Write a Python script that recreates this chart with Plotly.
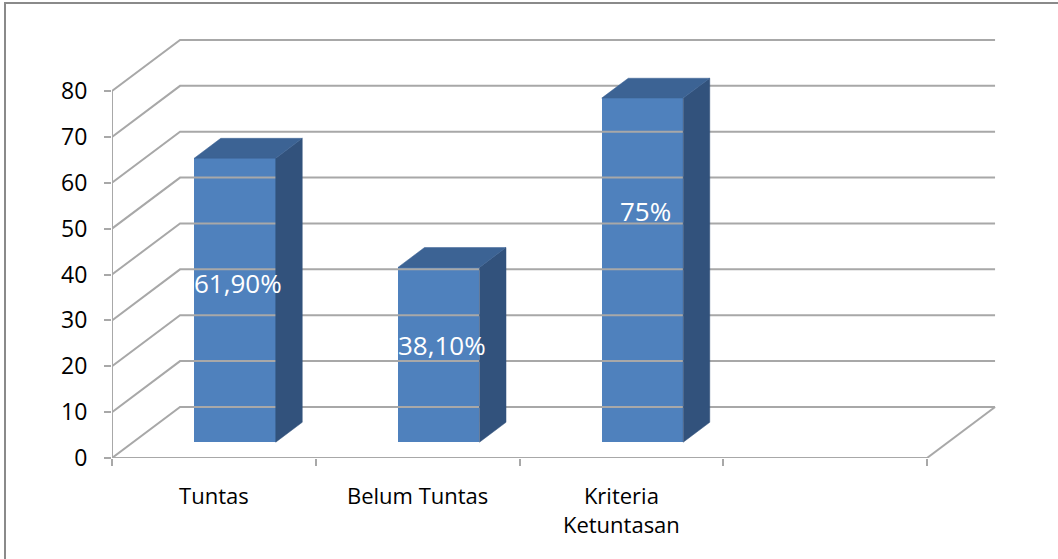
import plotly.graph_objects as go

categories = ["Tuntas", "Belum Tuntas", "Kriteria<br>Ketuntasan", ""]
values = [61.9, 38.1, 75]
value_labels = ["61,90%", "38,10%", "75%"]
y_ticks = [0, 10, 20, 30, 40, 50, 60, 70, 80]

# style / geometry
label_y = [34.7, 21.1, 50.4]      # label heights above bar base (front-plane units)
DX, DY = 0.334, 11.12              # depth offset of back wall (data units)
F0, F1 = 0.31, 0.70                # bar depth position (fraction of depth)
BW = 0.40                          # bar width
FRONT, SIDE, TOP = "#4F81BD", "#32527C", "#3C6394"
GRID = "#A8A8A8"
FONT = "'Open Sans', sans-serif"

ML, MR, MT, MB = 112, 50, 36, 101
W, H = 1058, 559
xr = [0, (W - ML - MR) / 203.75]
yr = [0, (H - MT - MB) / 4.5875]

fig = go.Figure()

n = len(categories)
# gridlines: left side wall diagonal + back wall horizontal
for v in y_ticks:
    fig.add_trace(go.Scatter(x=[0, DX, n + DX], y=[v, v + DY, v + DY],
                             mode="lines", line=dict(color=GRID, width=2),
                             hoverinfo="skip", showlegend=False))
# floor right edge
fig.add_trace(go.Scatter(x=[n, n + DX], y=[0, DY], mode="lines",
                         line=dict(color=GRID, width=2), hoverinfo="skip", showlegend=False))
# front axis lines
fig.add_trace(go.Scatter(x=[0, n], y=[0, 0], mode="lines",
                         line=dict(color=GRID, width=2), hoverinfo="skip", showlegend=False))
fig.add_trace(go.Scatter(x=[0, 0], y=[0, max(y_ticks)], mode="lines",
                         line=dict(color=GRID, width=2), hoverinfo="skip", showlegend=False))

# bars: side and top faces
for i, v in enumerate(values):
    cx = i + 0.5 + F0 * DX
    xl, xrr = cx - BW / 2, cx + BW / 2
    b0 = F0 * DY
    ddx, ddy = (F1 - F0) * DX, (F1 - F0) * DY
    fig.add_trace(go.Scatter(x=[xrr, xrr + ddx, xrr + ddx, xrr, xrr],
                             y=[b0, b0 + ddy, b0 + v + ddy, b0 + v, b0],
                             mode="lines", fill="toself", fillcolor=SIDE,
                             line=dict(color=SIDE, width=0.5), hoverinfo="skip", showlegend=False))
    fig.add_trace(go.Scatter(x=[xl, xrr, xrr + ddx, xl + ddx, xl],
                             y=[b0 + v, b0 + v, b0 + v + ddy, b0 + v + ddy, b0 + v],
                             mode="lines", fill="toself", fillcolor=TOP,
                             line=dict(color=TOP, width=0.5), hoverinfo="skip", showlegend=False))

# front faces as real bars
fig.add_trace(go.Bar(x=[i + 0.5 + F0 * DX for i in range(len(values))], y=values,
                     base=[F0 * DY] * len(values), width=BW,
                     marker=dict(color=FRONT, line=dict(width=0)), showlegend=False,
                     hoverinfo="skip"))

for i, (lab, ly) in enumerate(zip(value_labels, label_y)):
    fig.add_annotation(x=i + 0.5 + F0 * DX, y=ly + F0 * DY, text=lab, showarrow=False,
                       xshift=3, font=dict(color="white", size=26, family=FONT))

fig.add_trace(go.Scatter(x=[0], y=[0], xaxis="x2", mode="markers",
                         marker=dict(opacity=0), hoverinfo="skip", showlegend=False))

fig.update_layout(
    width=W, height=H,
    margin=dict(l=ML, r=MR, t=MT, b=MB),
    paper_bgcolor="white", plot_bgcolor="white",
    font=dict(family=FONT, color="black", size=22),
    xaxis=dict(range=xr, tickvals=[i + 0.5 for i in range(n)], ticktext=categories,
               ticks="", showgrid=False, zeroline=False, showline=False,
               tickfont=dict(size=22), ticklabelstandoff=23),
    xaxis2=dict(range=xr, overlaying="x", side="bottom", tickvals=list(range(n + 1)),
                showticklabels=False, ticks="outside", ticklen=7, tickwidth=2,
                tickcolor=GRID, showgrid=False, zeroline=False, showline=False),
    yaxis=dict(range=yr, tickvals=y_ticks, ticks="outside", ticklen=7, tickwidth=2,
               tickcolor=GRID, showgrid=False, zeroline=False, showline=False,
               tickfont=dict(size=23), ticklabelstandoff=12),
    bargap=0,
    shapes=[dict(type="rect", xref="paper", yref="paper",
                 x0=(5 - ML) / (W - ML - MR), x1=(W + 5 - ML) / (W - ML - MR),
                 y0=(MB - H - 10) / (H - MT - MB), y1=(H - 3 - MB) / (H - MT - MB),
                 line=dict(color="#8A8A8A", width=2), layer="below")],
)

fig.write_html("out.html")
